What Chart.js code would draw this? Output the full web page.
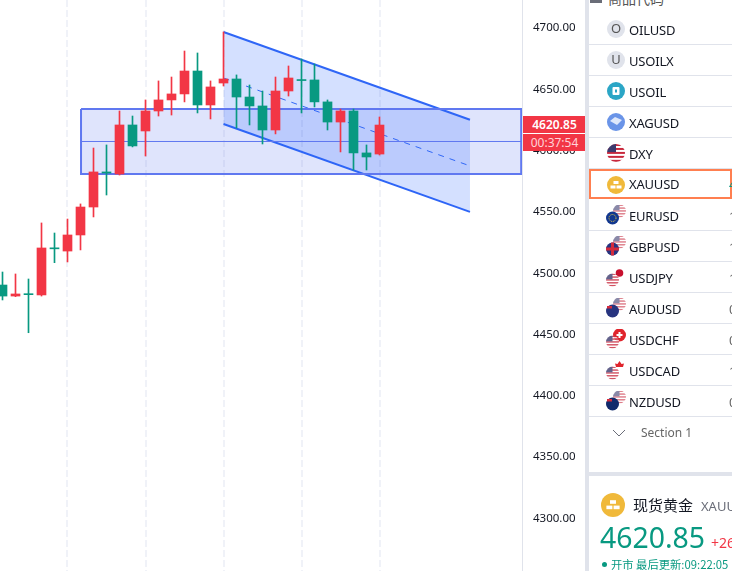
<!DOCTYPE html>
<html>
<head>
<meta charset="utf-8">
<script src="https://cdn.jsdelivr.net/npm/chart.js@4"></script>
<style>
  html, body { margin: 0; padding: 0; background: #fff; }
  #root { position: relative; width: 732px; height: 571px; overflow: hidden; background: #fff;
          font-family: "Noto Sans", "Noto Sans CJK SC", sans-serif; color: #131722; }
  #chart { position: absolute; left: 0; top: 0; }
  .tag { position: absolute; left: 523px; width: 63px; background: #f23645; text-align: center; font-size: 12px; }
  #tag-price { top: 116px; height: 17px; line-height: 17px; color: #fff; font-weight: 600; }
  #tag-time { top: 134px; height: 17px; line-height: 17px; color: #ffd3d8; }
  #vbar { position: absolute; left: 585px; top: 0; width: 4px; height: 571px; background: #e0e3eb; }
  #hbar { position: absolute; left: 589px; top: 472px; width: 143px; height: 4px; background: #e0e3eb; }
  #head { position: absolute; left: 608px; top: -12px; font: 14px "Noto Sans CJK SC"; color: #555; }
  #head-mark { position: absolute; left: 590px; top: 0; width: 0; height: 0; border-left: 6px solid #6a6d78;
               border-right: 6px solid #6a6d78; border-top: 3px solid #6a6d78; }
  .row { position: absolute; left: 589px; width: 143px; height: 30px; border-bottom: 1px solid #e0e3eb; box-sizing: content-box; }
  .row.sel { border: 2px solid #ff7f50; height: 26px; width: 139px; left: 589px; }
  .row svg { position: absolute; left: 17px; top: 5px; }
  .row.sel svg { left: 15px; top: 4px; }
  .sym { position: absolute; left: 40px; top: 0; line-height: 33px; font-size: 13px; letter-spacing: -0.2px; }
  .row.sel .sym { left: 38px; top: -2px; line-height: 31px; }
  .val { position: absolute; left: 140px; top: 0; line-height: 33px; font-size: 13px; color: #666; }
  .row.sel .val { left: 138px; top: -2px; line-height: 31px; color: #089981; }
  #section { position: absolute; left: 641px; top: 424px; font-size: 12px; color: #666; }
  #chev { position: absolute; left: 612px; top: 428px; }
  #gold { position: absolute; left: 601px; top: 493px; }
  #name { position: absolute; left: 633px; top: 494px; font: 15px "Noto Sans CJK SC"; }
  #code { position: absolute; left: 701px; top: 497px; font-size: 13px; color: #6a6d78; }
  #last { position: absolute; left: 600px; top: 516px; font-size: 28.4px; line-height: 42px; color: #089981; }
  #chg { position: absolute; left: 711px; top: 533px; font-size: 14px; color: #f23645; }
  #dot { position: absolute; left: 602px; top: 562px; width: 5px; height: 5px; border-radius: 50%; background: #089981; }
  #status { position: absolute; left: 611px; top: 556px; font: 11.3px "Noto Sans CJK SC"; color: #089981; white-space: nowrap; }
</style>
</head>
<body>
<div id="root">
  <canvas id="chart" width="586" height="571"></canvas>
  <div class="tag" id="tag-price"></div>
  <div class="tag" id="tag-time"></div>
  <div id="vbar"></div>
  <div id="hbar"></div>
  <div id="head-mark"></div>
  <div id="head">商品代码</div>
  <div id="rows"></div>
  <svg id="chev" width="14" height="10"><path d="M1 2 L7 8 L13 2" fill="none" stroke="#6a6d78" stroke-width="1"/></svg>
  <div id="section">Section 1</div>
  <svg id="gold" width="24" height="24"></svg>
  <div id="name">现货黄金</div>
  <div id="code">XAUUSD</div>
  <div id="last"></div>
  <div id="chg">+26.10</div>
  <div id="dot"></div>
  <div id="status">开市 最后更新:09:22:05</div>
</div>
<script>
// 캔들 데이터
const opens  = [4490.4,4481.4,4483.1,4482.3,4520.6,4518.1,4531.2,4554.0,4582.6,4580.9,4620.9,4616.0,4632.3,4641.3,4646.2,4664.9,4637.2,4655.1,4658.4,4643.7,4636.4,4616.8,4648.6,4657.9,4657.6,4639.7,4623.3,4632.3,4598.1,4597.2];
const highs  = [4501.0,4499.4,4495.3,4541.0,4532.8,4544.2,4556.5,4602.1,4604.6,4632.3,4628.2,4641.3,4656.8,4660.0,4681.2,4679.6,4656.8,4696.7,4661.7,4653.5,4648.6,4660.0,4669.0,4674.7,4670.6,4641.3,4633.9,4633.9,4604.6,4627.4];
const lows   = [4478.2,4480.9,4451.5,4481.4,4508.6,4509.2,4519.0,4545.9,4563.8,4580.1,4603.0,4595.6,4628.2,4629.0,4639.7,4630.7,4625.8,4652.7,4618.4,4620.9,4605.4,4613.6,4644.5,4630.7,4635.6,4616.8,4598.9,4584.2,4584.2,4596.4];
const closes = [4481.4,4483.1,4482.5,4520.6,4519.9,4531.2,4554.0,4582.6,4581.7,4620.9,4603.8,4632.3,4641.3,4646.2,4664.9,4637.2,4651.9,4658.4,4643.7,4636.4,4616.8,4648.6,4659.2,4657.1,4639.7,4623.3,4632.3,4598.1,4594.8,4620.85];

const yTicks = [4700,4650,4600,4550,4500,4450,4400,4350,4300];
const xGridTicks = [5,11,17,23,29];

// 박스 (x는 봉 번호, y는 가격)
const boxX = [6.04, 39.9];
const boxTop = 4634;
const boxMid = 4607.42;
const boxBottom = 4581;

// 하락 채널
const channelX = [17, 35.96];
const channelTop = [4696.7, 4625.2];
const channelMid = [4659.2, 4587.5];
const channelBottom = [4621.7, 4550];

const lastPrice = '4620.85';
const countdown = '00:37:54';

const symbols = ['OILUSD','USOILX','USOIL','XAGUSD','DXY','XAUUSD','EURUSD','GBPUSD','USDJPY','AUDUSD','USDCHF','USDCAD','NZDUSD'];
const rowValues = ['','','','','','4','1','1','1','0','0','1','0'];

const UP = '#f23645';
const DOWN = '#089981';
const LINE = '#2f66f6';

// 아이콘
let clipId = 0;
function flagUS(cx, cy, r, op) {
  const id = 'c' + (clipId++);
  let s = `<clipPath id="${id}"><circle cx="${cx}" cy="${cy}" r="${r}"/></clipPath><g clip-path="url(#${id})" opacity="${op}"><rect x="${cx-r}" y="${cy-r}" width="${2*r}" height="${2*r}" fill="#fff"/>`;
  for (let i = 0; i < 5; i++) s += `<rect x="${cx-r}" y="${cy-r+i*r*0.44}" width="${2*r}" height="${r*0.22}" fill="#c8283c"/>`;
  s += `<rect x="${cx-r}" y="${cy-r}" width="${r}" height="${r*0.9}" fill="#3c3b6e"/></g>`;
  return s;
}
function disc(cx, cy, r, color) { return `<circle cx="${cx}" cy="${cy}" r="${r}" fill="${color}"/>`; }
function goldBars(k) {
  return `<g fill="#fff" transform="scale(${k})"><rect x="7.5" y="6" width="5" height="3"/><rect x="4.5" y="10.5" width="5" height="3"/><rect x="10.5" y="10.5" width="5" height="3"/></g>`;
}
function iconFor(sym) {
  const back = flagUS(13.5, 6, 6.5, 0.6);
  const front = flagUS(6.5, 13, 6.5, 0.8);
  if (sym === 'OILUSD' || sym === 'USOILX') return disc(10,10,9,'#e0e3eb') + `<text x="10" y="14" font-size="13" text-anchor="middle" fill="#555">${sym === 'OILUSD' ? 'O' : 'U'}</text>`;
  if (sym === 'USOIL') return disc(10,10,9,'#2ba6c6') + '<rect x="6.5" y="6" width="7" height="8" rx="1" fill="#fff"/><rect x="9" y="8.5" width="2" height="3" fill="#2ba6c6"/>';
  if (sym === 'XAGUSD') return disc(10,10,9,'#6a94e8') + '<path d="M4 9 L9 5 L16 8 L11 13 Z" fill="#dfe8fb"/>';
  if (sym === 'DXY') return flagUS(10,10,9,1);
  if (sym === 'XAUUSD') return disc(10,10,9,'#f0b93a') + goldBars(1);
  if (sym === 'EURUSD') return back + disc(6.5,13,6.5,'#12378f') + '<circle cx="6.5" cy="13" r="3.5" fill="none" stroke="#f5d442" stroke-width="1" stroke-dasharray="1 1"/>';
  if (sym === 'GBPUSD') return back + disc(6.5,13,6.5,'#27347f') + '<rect x="0" y="11.5" width="13" height="3" fill="#d32a3c"/><rect x="5" y="6.5" width="3" height="13" fill="#d32a3c"/>';
  if (sym === 'USDJPY') return disc(13.5,6,6.5,'#fff') + disc(13.5,6,3.8,'#c8102e') + front;
  if (sym === 'AUDUSD') return back + disc(6.5,13,6.5,'#27347f') + '<rect x="1" y="8" width="5" height="2.5" fill="#d32a3c"/>';
  if (sym === 'USDCHF') return disc(13.5,6,6.5,'#e0242c') + '<rect x="10.5" y="5" width="6" height="2" fill="#fff"/><rect x="12.5" y="3" width="2" height="6" fill="#fff"/>' + front;
  if (sym === 'USDCAD') return '<rect x="8" y="1" width="12" height="9" fill="#fff"/><path d="M13.5 1 L15.5 4 L18 3.5 L17 7 L10 7 L9 3.5 L11.5 4 Z" fill="#e0242c"/>' + front;
  if (sym === 'NZDUSD') return back + disc(6.5,13,6.5,'#10296b') + '<rect x="1" y="8" width="5" height="2.5" fill="#d32a3c"/>';
  return '';
}

const rowsEl = document.getElementById('rows');
rowsEl.innerHTML = symbols.map((s, i) => {
  const sel = s === 'XAUUSD';
  const top = sel ? 169 : 14 + i * 31;
  return `<div class="row${sel ? ' sel' : ''}" style="top:${top}px"><svg width="20" height="20">${iconFor(s)}</svg><span class="sym">${s}</span><span class="val">${rowValues[i]}</span></div>`;
}).join('');

document.getElementById('gold').innerHTML = disc(12,12,12,'#f0b93a') + goldBars(1.2);
document.getElementById('tag-price').textContent = lastPrice;
document.getElementById('tag-time').textContent = countdown;
document.getElementById('last').textContent = lastPrice;

// 캔들: 꼬리와 몸통을 막대 두 개로
const idx = opens.map((_, i) => i);
const candleColors = idx.map(i => closes[i] >= opens[i] ? UP : DOWN);

new Chart(document.getElementById('chart'), {
  data: {
    datasets: [
      { type: 'line', order: 9, data: [{x: boxX[0], y: boxTop}, {x: boxX[1], y: boxTop}], borderWidth: 0, pointRadius: 0,
        fill: '+1', backgroundColor: 'rgba(96,120,240,0.2)' },
      { type: 'line', order: 9, data: [{x: boxX[0], y: boxBottom}, {x: boxX[1], y: boxBottom}], borderWidth: 0, pointRadius: 0, fill: false },
      { type: 'line', order: 8, data: [{x: channelX[0], y: channelTop[0]}, {x: channelX[1], y: channelTop[1]}], borderWidth: 2, borderColor: LINE, pointRadius: 0,
        fill: '+1', backgroundColor: 'rgba(41,98,255,0.2)' },
      { type: 'line', order: 8, data: [{x: channelX[0], y: channelBottom[0]}, {x: channelX[1], y: channelBottom[1]}], borderWidth: 2, borderColor: LINE, pointRadius: 0, fill: false },
      { type: 'line', order: 7, data: [{x: channelX[0], y: channelMid[0]}, {x: channelX[1], y: channelMid[1]}], borderWidth: 1, borderColor: LINE, borderDash: [6, 6], pointRadius: 0, fill: false },
      { type: 'line', order: 6, data: [{x: boxX[0], y: boxTop}, {x: boxX[1], y: boxTop}, {x: boxX[1], y: boxBottom}, {x: boxX[0], y: boxBottom}, {x: boxX[0], y: boxTop}],
        borderWidth: 2, borderColor: '#6078f0', pointRadius: 0, fill: false, tension: 0 },
      { type: 'line', order: 6, data: [{x: boxX[0], y: boxMid}, {x: boxX[1], y: boxMid}], borderWidth: 1, borderColor: '#6078f0', pointRadius: 0, fill: false },
      { type: 'bar', order: 2, grouped: false, barThickness: 1, borderWidth: 0, backgroundColor: candleColors,
        data: idx.map(i => ({x: i, y: [lows[i], highs[i]]})) },
      { type: 'bar', order: 1, grouped: false, barThickness: 9, minBarLength: 1, borderWidth: 0, backgroundColor: candleColors,
        data: idx.map(i => ({x: i, y: [opens[i], closes[i]]})) }
    ]
  },
  options: {
    responsive: false,
    devicePixelRatio: 1,
    animation: false,
    layout: { padding: 0 },
    plugins: { legend: { display: false }, tooltip: { enabled: false } },
    scales: {
      x: {
        type: 'linear',
        min: -0.1923,
        max: 39.9615,
        offset: false,
        afterBuildTicks: s => { s.ticks = xGridTicks.map(v => ({ value: v })); },
        ticks: { display: false },
        grid: { color: '#f0f2f8', lineWidth: 2, drawTicks: false, offset: false },
        border: { display: false, dash: [7, 3] },
        afterFit: s => { s.height = 0; s.paddingLeft = 0; s.paddingRight = 0; }
      },
      y: {
        position: 'right',
        min: 4257.2,
        max: 4722.8,
        afterBuildTicks: s => { s.ticks = yTicks.map(v => ({ value: v })); },
        afterFit: s => { s.width = 64; s.paddingTop = 0; s.paddingBottom = 0; },
        ticks: { padding: 11, color: '#131722', font: { family: '"Noto Sans"', size: 11.5 }, callback: v => v.toFixed(2) },
        grid: { display: false, drawTicks: false },
        border: { display: true, color: '#e0e3eb', width: 1 }
      }
    }
  }
});
</script>
</body>
</html>
